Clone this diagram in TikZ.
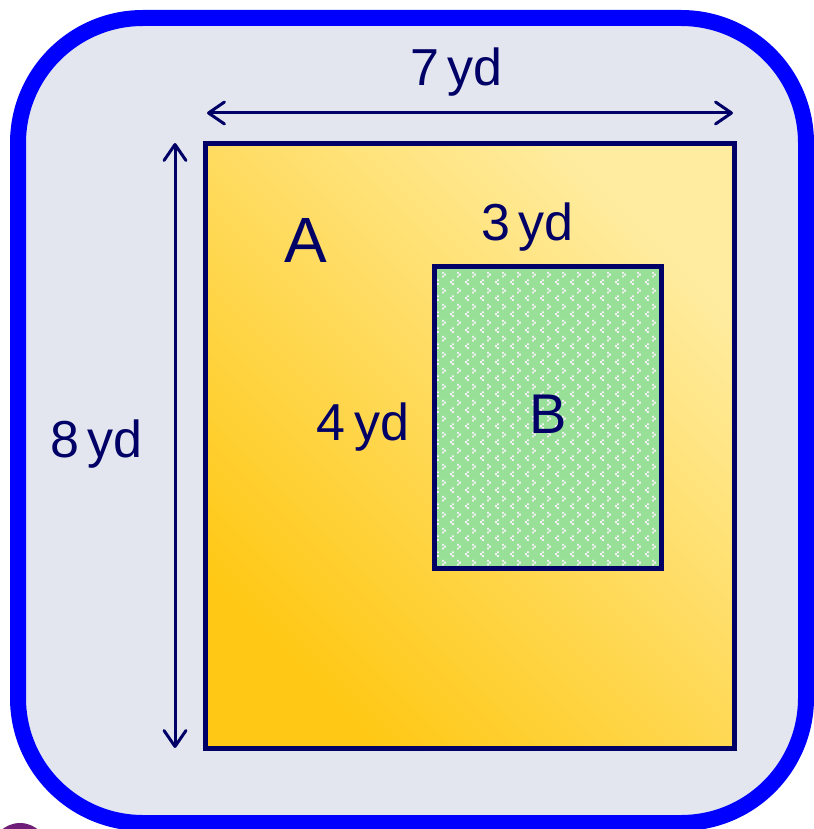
\documentclass[tikz,border=0pt]{standalone}
\usepackage{fontspec}
\setmainfont{Liberation Sans}
\usetikzlibrary{arrows.meta,patterns}
\definecolor{navy}{RGB}{0,0,102}
\definecolor{frameblue}{RGB}{0,0,255}
\definecolor{bggray}{RGB}{227,230,239}
\definecolor{golddark}{RGB}{255,200,20}
\definecolor{goldlight}{RGB}{255,236,160}
\definecolor{bgreen}{RGB}{152,224,152}
\definecolor{dotpink}{RGB}{248,240,248}
\definecolor{purp}{RGB}{110,30,120}
\pgfdeclarepatternformonly{bdots}{\pgfpointorigin}{\pgfqpoint{15pt}{16pt}}{\pgfqpoint{15pt}{16pt}}{%
  \pgfpathrectangle{\pgfqpoint{2pt}{0pt}}{\pgfqpoint{2pt}{2pt}}%
  \pgfpathrectangle{\pgfqpoint{0pt}{2pt}}{\pgfqpoint{2pt}{2pt}}%
  \pgfpathrectangle{\pgfqpoint{2pt}{4pt}}{\pgfqpoint{2pt}{2pt}}%
  \pgfpathrectangle{\pgfqpoint{7.5pt}{8pt}}{\pgfqpoint{2pt}{2pt}}%
  \pgfpathrectangle{\pgfqpoint{9.5pt}{10pt}}{\pgfqpoint{2pt}{2pt}}%
  \pgfpathrectangle{\pgfqpoint{7.5pt}{12pt}}{\pgfqpoint{2pt}{2pt}}%
  \pgfusepath{fill}}
\tikzset{
  dimarrow/.style={navy, line width=3pt, line cap=round,
    {Straight Barb[length=16pt,width=22pt,round]}-{Straight Barb[length=16pt,width=22pt,round]}},
  lbl/.style={text=navy, font=\fontsize{52}{60}\selectfont, inner sep=0pt, anchor=base},
  boxline/.style={draw=navy, line width=5pt, inner sep=0pt, outer sep=0pt}
}
\newcommand{\ydsp}{\hspace{0.16em}}
\begin{document}
\begin{tikzpicture}[x=1pt,y=1pt]
\useasboundingbox (0,0) rectangle (813,-829);
\fill[white] (0,0) rectangle (813,-829);
\begin{scope}
  \clip (0,0) rectangle (813,-829);
  \fill[purp] (20,-851) circle (28);
\end{scope}
\node[draw=frameblue, line width=16pt, fill=bggray, rounded corners=125pt,
  minimum width=788pt, minimum height=805pt, inner sep=0pt] (frame) at (412,-420.5) {};
\node[boxline, top color=goldlight, bottom color=golddark, shading angle=-45,
  minimum width=528.5pt, minimum height=604pt] (A) at (469.75,-446) {};
\node[boxline, preaction={fill=bgreen}, pattern=bdots, pattern color=dotpink,
  minimum width=226.5pt, minimum height=302pt] (B) at (547.75,-417) {};
\coordinate (h1) at (207,-113);
\coordinate (h2) at (733,-113);
\coordinate (v1) at (175,-143);
\coordinate (v2) at (175,-748);
\draw[dimarrow] (h1) -- (h2);
\draw[dimarrow] (v1) -- (v2);
\node[lbl] (l7) at (456.5,-86) {7\ydsp yd};
\node[lbl] (l8) at (96.5,-457) {8\ydsp yd};
\node[lbl] (l3) at (527.5,-240) {3\ydsp yd};
\node[lbl] (l4) at (363,-440) {4\ydsp yd};
\node[lbl, font=\fontsize{64}{72}\selectfont] (la) at (306,-262) {A};
\node[lbl, font=\fontsize{56}{64}\selectfont] (lb) at (548,-433) {B};
\end{tikzpicture}
\end{document}
